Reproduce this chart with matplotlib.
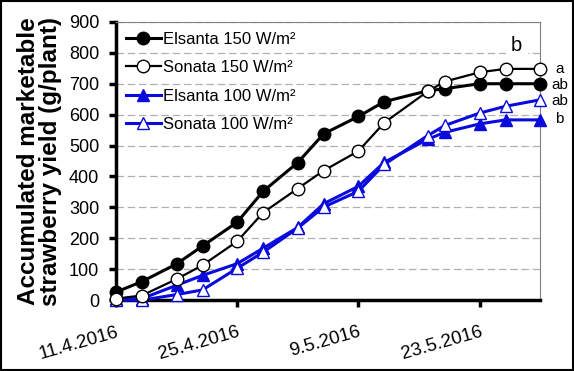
import matplotlib
matplotlib.use('Agg')
import matplotlib.pyplot as plt
import pandas as pd

plt.rcParams['font.family'] = ['Liberation Sans', 'DejaVu Sans']

dates = ['11.4.2016', '14.4.2016', '18.4.2016', '21.4.2016', '25.4.2016', '28.4.2016',
         '2.5.2016', '5.5.2016', '9.5.2016', '12.5.2016', '17.5.2016', '19.5.2016',
         '23.5.2016', '26.5.2016', '30.5.2016']
elsanta_150 = [26, 60, 117, 175, 252, 352, 445, 538, 594, 642, 677, 684, 700, 700, 700]
sonata_150 = [5, 15, 68, 113, 190, 283, 361, 419, 482, 574, 675, 707, 737, 748, 748]
elsanta_100 = [3, 5, 48, 80, 118, 168, 235, 312, 368, 446, 520, 543, 570, 583, 583]
sonata_100 = [0, 0, 18, 33, 103, 155, 233, 301, 352, 439, 532, 565, 605, 627, 648]
tick_dates = ['11.4.2016', '25.4.2016', '9.5.2016', '23.5.2016']
letters = ['a', 'ab', 'ab', 'b']

x = pd.to_datetime(dates, format='%d.%m.%Y')
xt = pd.to_datetime(tick_dates, format='%d.%m.%Y')

fig = plt.figure(figsize=(5.74, 3.71), dpi=100)
ax = fig.add_axes([0.202, 0.191, 0.739, 0.750])

blue = '#0a0adc'
ax.plot(x, elsanta_100, '-^', color=blue, lw=2.2, ms=9, mfc=blue, mec=blue,
        label='Elsanta 100 W/m²', clip_on=False, zorder=3)
ax.plot(x, sonata_100, '-^', color=blue, lw=2.2, ms=9, mfc='white', mec=blue,
        label='Sonata 100 W/m²', clip_on=False, zorder=3)
ax.plot(x, elsanta_150, '-o', color='black', lw=2.2, ms=9, mfc='black', mec='black',
        label='Elsanta 150 W/m²', clip_on=False, zorder=4)
ax.plot(x, sonata_150, '-o', color='black', lw=1.6, ms=9, mfc='white', mec='black',
        label='Sonata 150 W/m²', clip_on=False, zorder=4)

ax.set_xlim(x[0], x[-1])
ax.set_ylim(0, 900)
ax.set_yticks(range(0, 901, 100))
ax.set_xticks(xt)
ax.set_xticklabels(tick_dates, rotation=16, ha='right', fontsize=13.5, rotation_mode='anchor')
ax.tick_params(axis='y', labelsize=13, width=2.5, length=5, pad=7)
ax.tick_params(axis='x', width=2.5, length=5, pad=12)
ax.yaxis.grid(True, color='#b0b0b0', ls=(0, (6, 3)), lw=0.9)
ax.set_axisbelow(True)

for s in ['left', 'bottom']:
    ax.spines[s].set_linewidth(2.5)
for s in ['top', 'right']:
    ax.spines[s].set_linewidth(0.8)
    ax.spines[s].set_color('#808080')

ax.set_ylabel('Accumulated marketable\nstrawberry yield (g/plant)', fontsize=17.5,
              fontweight='bold', labelpad=5, linespacing=0.95)

h, l = ax.get_legend_handles_labels()
order = [2, 3, 0, 1]
leg = ax.legend([h[i] for i in order], [l[i] for i in order], loc='upper left',
                frameon=False, fontsize=12, handlelength=2.1, handletextpad=0.1,
                labelspacing=0.8, borderaxespad=0.2, bbox_to_anchor=(0.0, 1.0))

ypos = [748, 697, 645, 587]
for lt, yv in zip(letters, ypos):
    ax.annotate(lt, xy=(1.0, yv), xycoords=('axes fraction', 'data'),
                xytext=(14, 0), textcoords='offset points', ha='center', va='center',
                fontsize=11, annotation_clip=False)
ax.text(0.945, 0.915, 'b', transform=ax.transAxes, fontsize=14.5, ha='center', va='center',
        bbox=dict(facecolor='white', edgecolor='none', pad=4), zorder=2)

fig.patches.append(plt.Rectangle((0.002, 0.003), 0.996, 0.994, transform=fig.transFigure,
                                 fill=False, edgecolor='black', lw=1.5))

fig.savefig('out.png', dpi=100)
